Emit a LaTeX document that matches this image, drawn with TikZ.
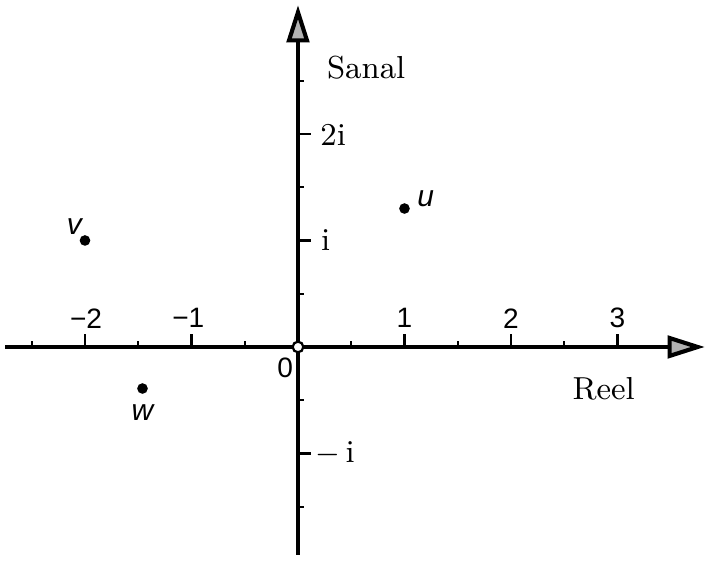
\documentclass[tikz,border=0pt]{standalone}
\usepackage{fontspec}
\setsansfont{Liberation Sans}
\usetikzlibrary{arrows.meta}

\begin{document}
\begin{tikzpicture}[
    x=1cm, y=1cm,
    every node/.style={inner sep=0pt},
    axis/.style={line width=1.1pt,
                 -{Triangle[length=3.5mm, width=2.1mm, fill=black!30]}},
    tick/.style={line width=0.55pt},
    num/.style={font=\sffamily\fontsize{7.5}{9}\selectfont},
    lbl/.style={font=\fontsize{8.5}{10}\selectfont},
    pt/.style={circle, fill=black, minimum size=1mm},
    ptname/.style={font=\sffamily\itshape\fontsize{8}{10}\selectfont}
]
    \useasboundingbox (-2.798,-2.009) rectangle (3.878,3.258);

    % Axes
    \coordinate (xl) at (-2.75,0);
    \coordinate (xr) at (3.82,0);
    \coordinate (yb) at (0,-1.95);
    \coordinate (yt) at (0,3.21);
    \draw[axis] (xl) -- (xr);
    \draw[axis] (yb) -- (yt);

    % Ticks on the real axis
    \foreach \x in {-2,-1,1,2,3}
        \draw[tick] (\x,0) -- (\x,0.12);
    \foreach \x in {-2.5,-1.5,-0.5,0.5,1.5,2.5}
        \draw[tick] (\x,0) -- (\x,0.06);

    % Ticks on the imaginary axis
    \foreach \y in {-1,1,2}
        \draw[tick] (0,\y) -- (0.12,\y);
    \foreach \y in {-1.5,-0.5,0.5,1.5,2.5}
        \draw[tick] (0,\y) -- (0.06,\y);

    % Origin
    \node[circle, draw, fill=white, line width=0.6pt, minimum size=1mm] (o) at (0,0) {};

    % Tick labels
    \node[num] (m2) at (-1.99,0.27) {−2};
    \node[num] (m1) at (-1.03,0.27) {−1};
    \node[num] (p1) at (1.0,0.27) {1};
    \node[num] (p2) at (2.0,0.27) {2};
    \node[num] (p3) at (3.0,0.27) {3};
    \node[num] (zero) at (-0.12,-0.2) {0};
    \node[lbl] (i2) at (0.33,1.99) {2i};
    \node[lbl] (i1) at (0.26,1.0) {i};
    \node[lbl] (im1) at (0.35,-1.0) {$-$\,i};

    % Axis names
    \node[lbl] (sanal) at (0.64,2.62) {Sanal};
    \node[lbl] (reel) at (2.87,-0.39) {Reel};

    % Points
    \node[pt] (u) at (1,1.3) {};
    \node[ptname] (ulbl) at (1.2,1.39) {u};
    \node[pt] (v) at (-2,1) {};
    \node[ptname] (vlbl) at (-2.1,1.13) {v};
    \node[pt] (w) at (-1.46,-0.39) {};
    \node[ptname] (wlbl) at (-1.46,-0.62) {w};
\end{tikzpicture}
\end{document}
